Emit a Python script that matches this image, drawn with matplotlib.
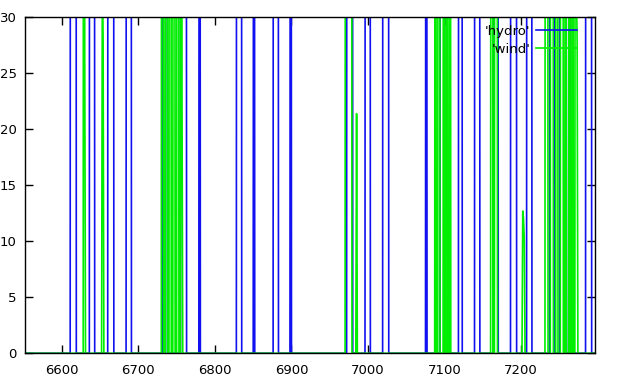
import matplotlib
matplotlib.use("Agg")
import matplotlib.pyplot as plt

# ── Data (hour index, output) ────────────────────────────────────────────────
hydro_hours = [
    6552,
    6611, 6612, 6618, 6619,
    6636, 6637, 6642, 6643,
    6660, 6661, 6667, 6668,
    6684, 6685, 6690, 6691,
    6732, 6733, 6737, 6738,
    6755, 6756, 6762, 6763,
    6779, 6780, 6781,
    6828, 6829, 6834, 6835,
    6850, 6851, 6852,
    6876, 6877, 6882, 6883,
    6898, 6899, 6900,
    6972, 6973, 6979, 6980,
    6996, 6997, 7002, 7003,
    7019, 7020, 7026, 7027,
    7075, 7076, 7077,
    7094, 7095, 7099, 7100,
    7118, 7119, 7122, 7123,
    7139, 7140, 7145, 7146,
    7164, 7165, 7169, 7170,
    7186, 7187, 7193, 7194,
    7207, 7208, 7213, 7214,
    7237, 7238, 7243, 7244,
    7250, 7251, 7258, 7259,
    7262, 7263, 7264,
    7284, 7285, 7291, 7292,
    7296,
]
hydro_values = [
    0,
    0, 240, 240, 0,
    0, 240, 240, 0,
    0, 240, 240, 0,
    0, 240, 240, 0,
    0, 180, 180, 0,
    0, 200, 200, 0,
    0, 150, 0,
    0, 240, 240, 0,
    0, 150, 0,
    0, 240, 240, 0,
    0, 150, 0,
    0, 200, 200, 0,
    0, 240, 240, 0,
    0, 240, 240, 0,
    0, 150, 0,
    0, 200, 200, 0,
    0, 240, 240, 0,
    0, 240, 240, 0,
    0, 200, 200, 0,
    0, 240, 240, 0,
    0, 240, 240, 0,
    0, 200, 200, 0,
    0, 200, 200, 0,
    0, 150, 0,
    0, 240, 240, 0,
    0,
]

wind_hours = [
    6552,
    6628, 6629, 6630, 6631,
    6652, 6653, 6654, 6655,
    6730, 6731, 6732, 6733,
    6735, 6736, 6737, 6738,
    6740, 6741, 6742, 6743,
    6745, 6746, 6747, 6748,
    6750, 6751, 6752, 6753,
    6755, 6756, 6757, 6758,
    6970, 6971, 6978, 6979,
    6984, 6985, 6986,
    7087, 7088, 7089,
    7091, 7092, 7093, 7094,
    7098, 7099, 7100,
    7102, 7103, 7104,
    7106, 7107, 7108,
    7160, 7161, 7162, 7163,
    7165, 7166, 7168, 7169,
    7201, 7202, 7203, 7204, 7205,
    7231, 7232, 7234, 7235,
    7238, 7239, 7241, 7242,
    7245, 7246, 7247, 7248,
    7251, 7252, 7254, 7255,
    7257, 7258, 7259,
    7262, 7263, 7264,
    7266, 7267, 7268,
    7270, 7271, 7272, 7273, 7274,
    7296,
]
wind_values = [
    0,
    0, 180, 26.5, 0,
    0, 34, 27.5, 0,
    0, 160, 160, 0,
    0, 160, 160, 0,
    0, 170, 170, 0,
    0, 170, 170, 0,
    0, 150, 150, 0,
    0, 140, 23.2, 0,
    0, 160, 160, 0,
    0, 21.4, 0,
    0, 150, 0,
    0, 170, 170, 0,
    0, 160, 0,
    0, 170, 0,
    0, 150, 0,
    0, 170, 170, 0,
    0, 160, 160, 0,
    0, 12.7, 12.0, 10.2, 0,
    0, 160, 160, 0,
    0, 170, 170, 0,
    0, 170, 170, 0,
    0, 160, 160, 0,
    0, 150, 0,
    0, 160, 0,
    0, 150, 0,
    0, 120, 33, 27.9, 0,
    0,
]

x_ticks = [6600, 6700, 6800, 6900, 7000, 7100, 7200]
y_ticks = [0, 5, 10, 15, 20, 25, 30]

# ── Figure ───────────────────────────────────────────────────────────────────
plt.rcParams["font.family"] = "DejaVu Sans"
plt.rcParams["font.size"] = 9.5

fig = plt.figure(figsize=(6.19, 3.87), dpi=100)
ax = fig.add_axes([0.0404, 0.0871, 0.9204, 0.8682])

ax.plot(hydro_hours, hydro_values, color="#1010f0", lw=1.2, label="'hydro'")
ax.plot(wind_hours, wind_values, color="#00ee00", lw=1.2, label="'wind'")

ax.set_xlim(6552, 7296)
ax.set_ylim(0, 30)
ax.set_xticks(x_ticks)
ax.set_yticks(y_ticks)
ax.tick_params(direction="in", length=6, width=1, top=True, right=True,
               colors="black", labelsize=9.5)
ax.tick_params(axis="x", pad=7.5)
ax.tick_params(axis="y", pad=6)
for sp in ax.spines.values():
    sp.set_color("black")
    sp.set_linewidth(1)

ax.legend(loc="upper right", bbox_to_anchor=(0.969, 0.978), frameon=False,
          markerfirst=False, handlelength=3.1, handletextpad=0.45,
          borderaxespad=0, borderpad=0, labelspacing=0.4, fontsize=9.5)

fig.savefig("out.png", dpi=100, facecolor="white")
